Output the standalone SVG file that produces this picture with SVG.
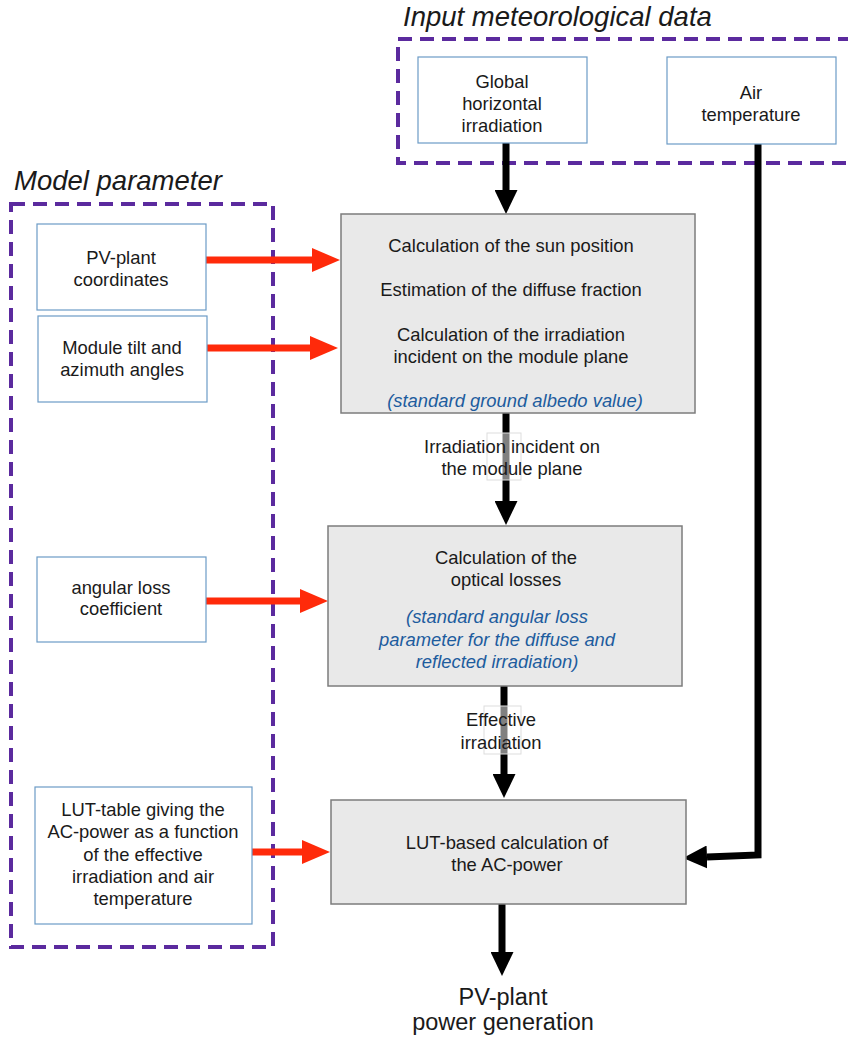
<svg xmlns="http://www.w3.org/2000/svg" width="848" height="1039" viewBox="0 0 848 1039">
<style>
text{font-family:"Liberation Sans",Arial,Helvetica,sans-serif;font-size:18.4px;fill:#1a1a1a;text-anchor:middle}
.title{font-size:27.5px;font-style:italic;text-anchor:start}
.note{fill:#1d5c9e;font-style:italic}
.big{font-size:23.5px}
.grp{fill:none;stroke:#5b2a9e;stroke-width:4;stroke-dasharray:14 8}
.in{fill:#fff;stroke:#6c9bc6;stroke-width:1.2}
.proc{fill:#e9e9e9;stroke:#7c7c7c;stroke-width:1.5}
.blk{fill:none;stroke:#000;stroke-width:7}
.red{fill:none;stroke:#ff2a0a;stroke-width:7}
.lbg{fill:#fff;fill-opacity:0.5;stroke:#ddd;stroke-width:1}
</style>
<defs>
<marker id="ab" markerUnits="userSpaceOnUse" markerWidth="25" markerHeight="23" refX="0" refY="11.5" orient="auto">
<path d="M0,0 L24,11.5 L0,23 z" fill="#000"/>
</marker>
<marker id="ar" markerUnits="userSpaceOnUse" markerWidth="29" markerHeight="25" refX="0" refY="12" orient="auto">
<path d="M0,0 L28,12 L0,24 z" fill="#ff2a0a"/>
</marker>
</defs>

<g id="group-input">
<rect class="grp" x="398" y="39" width="470" height="124"/>
<text class="title" x="403" y="26">Input meteorological data</text>
</g>
<g id="group-model">
<rect class="grp" x="11" y="204" width="262" height="743"/>
<text class="title" x="14" y="190">Model parameter</text>
</g>

<g id="connectors">
<line class="blk" x1="506" y1="143" x2="506" y2="190" marker-end="url(#ab)"/>
<line class="blk" x1="506" y1="413" x2="506" y2="501" marker-end="url(#ab)"/>
<line class="blk" x1="504" y1="686" x2="504" y2="774" marker-end="url(#ab)"/>
<line class="blk" x1="502" y1="904" x2="502" y2="952" marker-end="url(#ab)"/>
<polyline class="blk" points="758,144 758,855 707,857" marker-end="url(#ab)"/>
<line class="red" x1="206" y1="260" x2="312" y2="260" marker-end="url(#ar)"/>
<line class="red" x1="207" y1="348" x2="310" y2="348" marker-end="url(#ar)"/>
<line class="red" x1="206" y1="601" x2="300" y2="601" marker-end="url(#ar)"/>
<line class="red" x1="252" y1="852" x2="302" y2="852" marker-end="url(#ar)"/>
<g id="label-irr">
<rect class="lbg" x="487" y="433" width="34" height="47"/>
<text x="512" y="453">Irradiation incident on</text>
<text x="512" y="475">the module plane</text>
</g>
<g id="label-eff">
<rect class="lbg" x="484" y="706" width="37" height="48"/>
<text x="501" y="726">Effective</text>
<text x="501" y="749">irradiation</text>
</g>
</g>

<g id="ghi">
<rect class="in" x="418" y="57" width="169" height="86"/>
<text x="502" y="88">Global</text>
<text x="502" y="110">horizontal</text>
<text x="502" y="132">irradiation</text>
</g>
<g id="airtemp">
<rect class="in" x="667" y="57" width="169" height="87"/>
<text x="751" y="99">Air</text>
<text x="751" y="121">temperature</text>
</g>
<g id="pvcoord">
<rect class="in" x="37" y="224" width="169" height="86"/>
<text x="121" y="264">PV-plant</text>
<text x="121" y="286">coordinates</text>
</g>
<g id="tilt">
<rect class="in" x="38" y="316" width="169" height="86"/>
<text x="122" y="354">Module tilt and</text>
<text x="122" y="376">azimuth angles</text>
</g>
<g id="angular">
<rect class="in" x="37" y="557" width="169" height="85"/>
<text x="121" y="594">angular loss</text>
<text x="121" y="615">coefficient</text>
</g>
<g id="lut">
<rect class="in" x="35" y="787" width="217" height="137"/>
<text x="143" y="816">LUT-table giving the</text>
<text x="143" y="838">AC-power as a function</text>
<text x="143" y="861">of the effective</text>
<text x="143" y="883">irradiation and air</text>
<text x="143" y="905">temperature</text>
</g>
<g id="calc-irr">
<rect class="proc" x="341" y="214" width="354" height="199"/>
<text x="511" y="252">Calculation of the sun position</text>
<text x="511" y="296">Estimation of the diffuse fraction</text>
<text x="511" y="341">Calculation of the irradiation</text>
<text x="511" y="363">incident on the module plane</text>
<text class="note" x="515" y="407">(standard ground albedo value)</text>
</g>
<g id="calc-opt">
<rect class="proc" x="328" y="526" width="354" height="160"/>
<text x="506" y="564">Calculation of the</text>
<text x="506" y="586">optical losses</text>
<text class="note" x="497" y="623">(standard angular loss</text>
<text class="note" x="497" y="646">parameter for the diffuse and</text>
<text class="note" x="497" y="668">reflected irradiation)</text>
</g>
<g id="calc-ac">
<rect class="proc" x="331" y="800" width="355" height="104"/>
<text x="507" y="849">LUT-based calculation of</text>
<text x="507" y="871">the AC-power</text>
</g>
<g id="output">
<text class="big" x="503" y="1005">PV-plant</text>
<text class="big" x="503" y="1030">power generation</text>
</g>
</svg>
